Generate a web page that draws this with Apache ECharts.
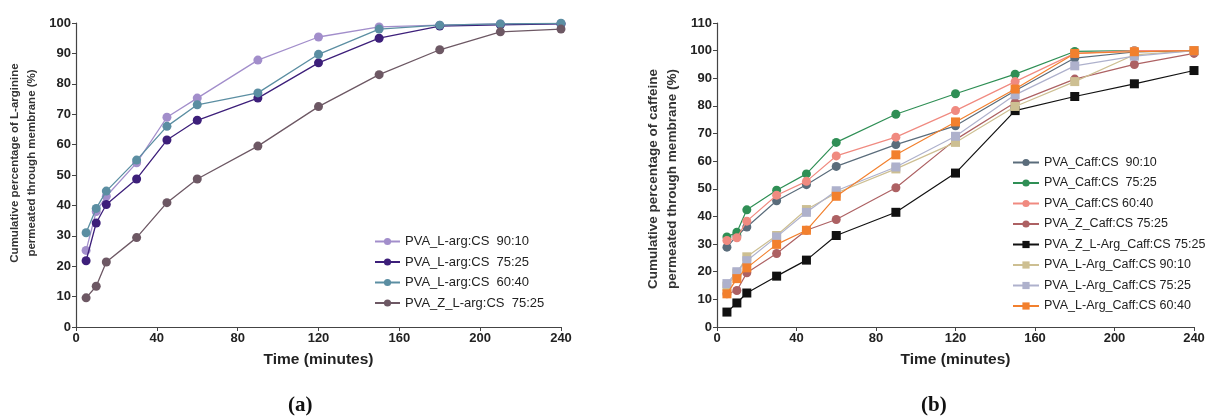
<!DOCTYPE html>
<html>
<head>
<meta charset="utf-8">
<script src="https://cdn.jsdelivr.net/npm/echarts@6/dist/echarts.min.js"></script>
<style>
  html, body { margin: 0; padding: 0; background: #fff; }
  #chart { width: 1209px; height: 420px; }
</style>
</head>
<body>
<div id="chart"></div>
<script>
// Sampling times (minutes)
const times = [5, 10, 15, 30, 45, 60, 90, 120, 150, 180, 210, 240];
const xTicks = [0, 40, 80, 120, 160, 200, 240];

// Panel (a): L-arginine release
const argNames = ['PVA_L-arg:CS  90:10', 'PVA_L-arg:CS  75:25', 'PVA_L-arg:CS  60:40', 'PVA_Z_L-arg:CS  75:25'];
const arg9010 = [25.2, 38.0, 43.0, 54.0, 69.0, 75.3, 87.8, 95.4, 98.7, 99.3, 99.7, 99.8];
const arg7525 = [21.8, 34.2, 40.3, 48.7, 61.5, 68.0, 75.3, 86.9, 95.0, 99.0, 99.4, 99.7];
const arg6040 = [31.0, 39.0, 44.7, 54.9, 66.0, 73.1, 77.0, 89.7, 98.0, 99.3, 99.7, 99.9];
const argZ7525 = [9.6, 13.4, 21.4, 29.4, 40.9, 48.7, 59.5, 72.5, 83.0, 91.2, 97.1, 98.0];

// Panel (b): caffeine release
const caffNames = ['PVA_Caff:CS  90:10', 'PVA_Caff:CS  75:25', 'PVA_Caff:CS 60:40', 'PVA_Z_Caff:CS 75:25',
  'PVA_Z_L-Arg_Caff:CS 75:25', 'PVA_L-Arg_Caff:CS 90:10', 'PVA_L-Arg_Caff:CS 75:25', 'PVA_L-Arg_Caff:CS 60:40'];
const caff9010 = [28.9, 33.0, 36.2, 45.7, 51.5, 58.1, 66.0, 72.8, 85.5, 97.3, 99.5, 100];
const caff7525 = [32.6, 34.3, 42.4, 49.5, 55.4, 66.8, 77.0, 84.4, 91.5, 99.7, 100, 100];
const caff6040 = [31.3, 32.3, 38.3, 47.7, 52.7, 61.9, 68.7, 78.3, 88.8, 99.0, 100, 100];
const zCaff7525 = [12.0, 13.2, 19.6, 26.6, 35.0, 38.9, 50.4, 67.8, 81.2, 89.7, 95.0, 99.0];
const zArgCaff7525 = [5.4, 8.7, 12.3, 18.4, 24.2, 33.1, 41.5, 55.7, 78.3, 83.4, 88.0, 92.8];
const argCaff9010 = [14.8, 19.5, 25.4, 33.1, 42.5, 48.5, 57.2, 66.8, 79.8, 88.8, 98.5, 100];
const argCaff7525 = [15.7, 20.0, 24.0, 32.6, 41.5, 49.3, 57.9, 69.0, 84.0, 94.5, 98.0, 100];
const argCaff6040 = [12.0, 17.5, 21.4, 29.9, 35.0, 47.3, 62.3, 74.2, 86.1, 99.0, 99.6, 100];

const FONT = 'Liberation Sans';

const argColors = ['#a28ecb', '#3d1f7a', '#5b8ea2', '#6d5864'];
const caffColors = ['#5a6c7b', '#2f8f55', '#f08a80', '#ad6163', '#111111', '#cdbf92', '#aeb1cc', '#f2802e'];
const caffSymbols = ['circle', 'circle', 'circle', 'circle', 'rect', 'rect', 'rect', 'rect'];

function pairs(vals) { return times.map((t, i) => [t, vals[i]]); }

function xAxisDef(grid) {
  return {
    type: 'value', gridIndex: grid, min: 0, max: 240, interval: 40,
    name: 'Time (minutes)', nameLocation: 'middle', nameGap: 25,
    nameTextStyle: { fontFamily: FONT, fontWeight: 'bold', fontSize: 15.5, color: '#222' },
    axisLine: { show: true, lineStyle: { color: '#444', width: 1.2 } },
    axisTick: { show: true, length: 4, lineStyle: { color: '#444' } },
    axisLabel: { fontFamily: FONT, fontWeight: 'bold', fontSize: 13, color: '#222', margin: 5,
      formatter: v => xTicks.includes(v) ? String(v) : '' },
    splitLine: { show: false }
  };
}

function yAxisDef(grid, max, name, gap, size, pad) {
  return {
    type: 'value', gridIndex: grid, min: 0, max: max, interval: 10,
    name: name, nameLocation: 'middle', nameGap: gap, nameRotate: 90,
    nameTextStyle: { fontFamily: FONT, fontWeight: 'bold', fontSize: size, color: '#333',
      lineHeight: size + 5.5, padding: pad },
    axisLine: { show: true, lineStyle: { color: '#444', width: 1.2 } },
    axisTick: { show: true, length: 4, lineStyle: { color: '#444' } },
    axisLabel: { fontFamily: FONT, fontWeight: 'bold', fontSize: 13, color: '#222', margin: 5 },
    splitLine: { show: false }
  };
}

const series = [];
[arg9010, arg7525, arg6040, argZ7525].forEach((vals, i) => {
  series.push({
    name: argNames[i], type: 'line', xAxisIndex: 0, yAxisIndex: 0,
    data: pairs(vals), symbol: 'circle', symbolSize: 9,
    lineStyle: { width: 1.3, color: argColors[i] },
    itemStyle: { color: argColors[i] }, z: 2 + i
  });
});
[caff9010, caff7525, caff6040, zCaff7525, zArgCaff7525, argCaff9010, argCaff7525, argCaff6040].forEach((vals, i) => {
  series.push({
    name: caffNames[i], type: 'line', xAxisIndex: 1, yAxisIndex: 1,
    data: pairs(vals), symbol: caffSymbols[i], symbolSize: 9,
    lineStyle: { width: 1.2, color: caffColors[i] },
    itemStyle: { color: caffColors[i] }, z: 2 + i
  });
});

const option = {
  animation: false,
  backgroundColor: '#fff',
  grid: [
    { left: 76, right: 648, top: 23, bottom: 93 },
    { left: 717, right: 15, top: 23, bottom: 93 }
  ],
  xAxis: [xAxisDef(0), xAxisDef(1)],
  yAxis: [
    yAxisDef(0, 100, 'Cumulative percentage of L-arginine\npermeated through membrane (%)', 36, 11.5, [0, 0, 0, 24]),
    yAxisDef(1, 110, 'Cumulative percentage of caffeine\npermeated through membrane (%)', 35, 13.5, [0, 8, 0, 0])
  ],
  legend: [
    {
      data: argNames, orient: 'vertical', left: 369, top: 230,
      itemWidth: 25, itemHeight: 9, itemGap: 7.5,
      textStyle: { fontFamily: FONT, fontSize: 13, color: '#222' }
    },
    {
      data: caffNames, orient: 'vertical', left: 1007, top: 151,
      itemWidth: 26, itemHeight: 9, itemGap: 7.5,
      textStyle: { fontFamily: FONT, fontSize: 12.5, color: '#222' }
    }
  ],
  graphic: [
    { type: 'text', left: 288, top: 395,
      style: { text: '(a)', font: 'bold 21px "Liberation Serif"', fill: '#111' } },
    { type: 'text', left: 921, top: 395,
      style: { text: '(b)', font: 'bold 21px "Liberation Serif"', fill: '#111' } }
  ],
  series: series
};

const chart = echarts.init(document.getElementById('chart'), null, { renderer: 'canvas' });
chart.setOption(option);
</script>
</body>
</html>
